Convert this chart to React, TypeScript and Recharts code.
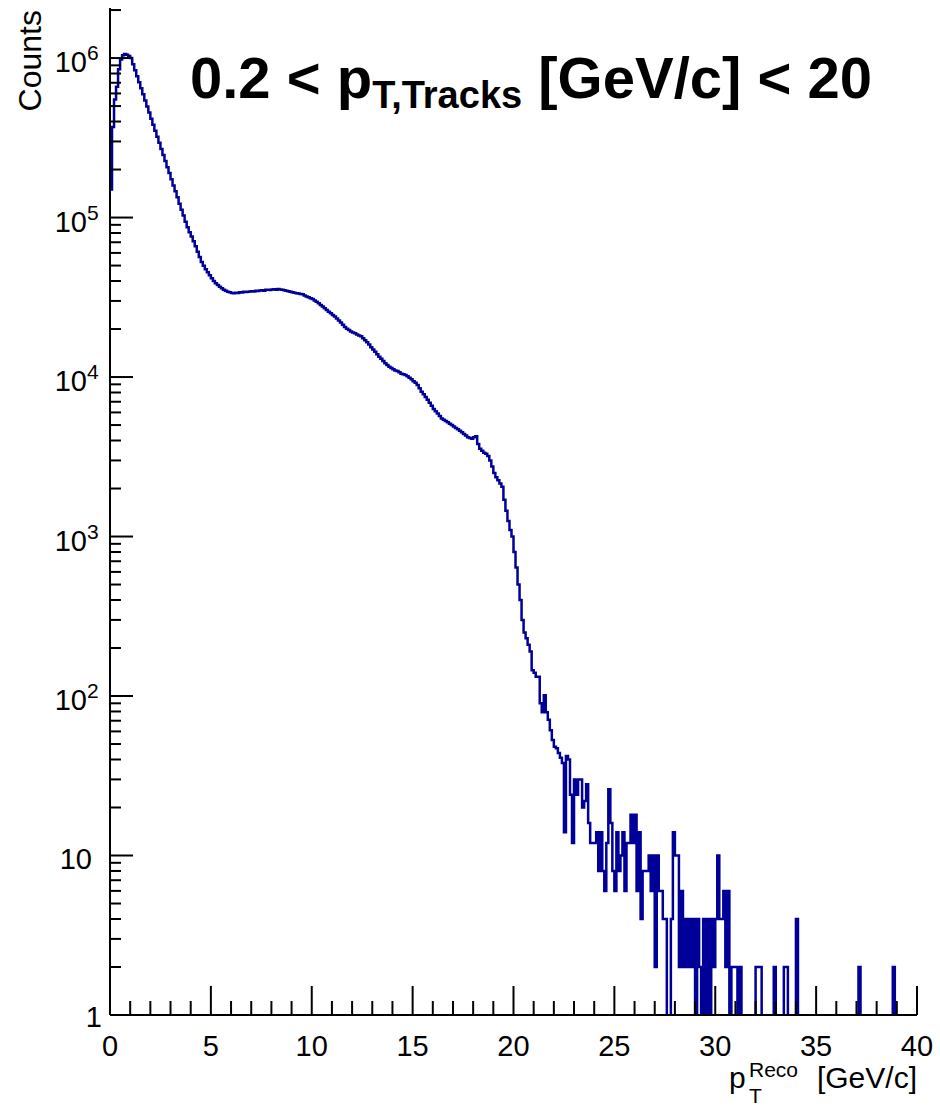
import React from "react";
import { LineChart, Line, XAxis, YAxis } from "recharts";

// reconstructed pT spectrum, 0.1 GeV/c bins, 0 - 40 GeV/c
const BIN_WIDTH = 0.1;
const PT_MAX = 40;

// 0 - 5 GeV/c
const countsPeak = [
  150000, 370000, 550000, 660000, 850000, 980000, 1040000, 1060000, 1050000, 1030000,
  1000000, 916000, 840000, 769000, 705000, 646000, 592000, 542000, 497000, 455000,
  417000, 382000, 350000, 321000, 294000, 269000, 247000, 226000, 207000, 190000,
  174000, 159000, 146000, 134000, 122000, 112000, 103000, 94000, 87000, 81000,
  76000, 71000, 66000, 61000, 56500, 52700, 49800, 47400, 45400, 43500,
];
// 5 - 10 GeV/c
const countsShoulder = [
  41700, 40000, 38800, 37800, 36800, 36000, 35300, 34800, 34300, 34000,
  33600, 33500, 33800, 33700, 34000, 33900, 34200, 34100, 34300, 34400,
  34500, 34400, 34700, 34600, 34900, 35000, 34800, 35200, 35300, 35100,
  35400, 35500, 35300, 35600, 35400, 35200, 35000, 34800, 34500, 34200,
  34000, 33800, 33500, 33400, 33200, 33000, 32500, 32000, 31600, 31200,
];
// 10 - 15 GeV/c
const countsFall = [
  30800, 30200, 29600, 29000, 28300, 27700, 27000, 26300, 25700, 25100,
  24500, 24000, 23300, 22600, 22000, 21300, 20600, 20100, 19700, 19300,
  19000, 18800, 18500, 18200, 18000, 17500, 17000, 16500, 16000, 15400,
  14900, 14400, 13900, 13400, 13000, 12600, 12200, 11900, 11600, 11400,
  11200, 11000, 10900, 10700, 10500, 10400, 10300, 10100, 9900, 9700,
];
// 15 - 20 GeV/c
const countsEdge = [
  9400, 9200, 8900, 8500, 8100, 7800, 7500, 7200, 6900, 6600,
  6300, 6100, 5900, 5700, 5500, 5400, 5300, 5200, 5100, 5000,
  4900, 4800, 4700, 4600, 4500, 4400, 4300, 4200, 4150, 4100,
  4200, 4250, 3800, 3550, 3450, 3350, 3300, 3200, 3000, 2750,
  2500, 2350, 2250, 2150, 2050, 1700, 1450, 1250, 1100, 1000,
];
// 20 - 25 GeV/c
const countsTailA = [
  800, 640, 500, 400, 300, 250, 230, 210, 190, 145,
  140, 132, 132, 90, 79, 101, 79, 71, 61, 53,
  48, 47, 44, 41, 38, 14, 42, 40, 24, 12,
  30, 24, 30, 30, 20, 22, 28, 16, 12, 12,
  12, 14, 8, 14, 8, 6, 12, 26, 16, 8,
];
// 25 - 30 GeV/c
const countsTailB = [
  6, 14, 8, 10, 14, 6, 12, 12, 18, 12,
  18, 6, 14, 4, 8, 8, 8, 10, 6, 10,
  2, 10, 6, 6, 4, 4, 0, 0, 4, 14,
  10, 10, 2, 6, 2, 4, 2, 4, 2, 4,
  0, 4, 2, 0, 4, 0, 4, 0, 4, 2,
];
// 30 - 35 GeV/c
const countsTailC = [
  4, 10, 4, 4, 6, 2, 6, 0, 2, 2,
  2, 0, 2, 0, 0, 0, 0, 0, 0, 0,
  2, 2, 2, 0, 0, 0, 0, 0, 0, 2,
  0, 0, 0, 0, 2, 2, 0, 0, 0, 0,
  4, 0, 0, 0, 0, 0, 0, 0, 0, 0,
];
// 35 - 40 GeV/c
const countsTailD = [
  0, 0, 0, 0, 0, 0, 0, 0, 0, 0,
  0, 0, 0, 0, 0, 0, 0, 0, 0, 0,
  0, 2, 0, 0, 0, 0, 0, 0, 0, 0,
  0, 0, 0, 0, 0, 0, 0, 0, 2, 0,
  0, 0, 0, 0, 0, 0, 0, 0, 0, 0,
];

const xTicks = Array.from({ length: 41 }, (_, i) => i);
const yTicks: number[] = [];
for (let k = 0; k <= 6; k++) {
  for (let m = 1; m <= 9; m++) {
    const v = m * Math.pow(10, k);
    if (v <= 2.06e6) yTicks.push(v);
  }
}

const allCounts = [
  ...countsPeak, ...countsShoulder, ...countsFall, ...countsEdge,
  ...countsTailA, ...countsTailB, ...countsTailC, ...countsTailD,
];
// empty bins fall below the log axis and get clipped at the frame
const floorLog = (c: number) => (c > 0 ? c : 0.4);
const histData = allCounts.map((c, i) => ({ pt: Math.round(i * BIN_WIDTH * 10) / 10, counts: floorLog(c) }));
histData.push({ pt: PT_MAX, counts: floorLog(allCounts[allCounts.length - 1]) });

const FONT = "'Liberation Sans', Arial, Helvetica, sans-serif";
const PLOT_LEFT = 110;
const PLOT_BOTTOM = 1015;

const YTick = (props: any) => {
  const { payload } = props;
  const cy = payload.coordinate ?? props.y;
  const v = payload.value;
  const lg = Math.log10(v);
  const k = Math.round(lg);
  const major = Math.abs(lg - k) < 1e-9;
  const len = major ? 23 : 11;
  let label: React.ReactNode = null;
  if (major) {
    if (k === 0) {
      label = (
        <text x={102} y={cy + 12} textAnchor="end" fontSize={29} fontFamily={FONT} fill="#000">1</text>
      );
    } else if (k === 1) {
      label = (
        <text x={92} y={cy + 13} textAnchor="end" fontSize={29} fontFamily={FONT} fill="#000">10</text>
      );
    } else {
      label = (
        <g>
          <text x={87} y={cy + 14} textAnchor="end" fontSize={29} fontFamily={FONT} fill="#000">10</text>
          <text x={87} y={cy + 2} textAnchor="start" fontSize={21} fontFamily={FONT} fill="#000">{String(k)}</text>
        </g>
      );
    }
  }
  return (
    <g>
      <line x1={PLOT_LEFT} x2={PLOT_LEFT + len} y1={cy} y2={cy} stroke="#000" strokeWidth={2} />
      {label}
    </g>
  );
};

const XTick = (props: any) => {
  const { payload } = props;
  const cx = payload.coordinate ?? props.x;
  const v = payload.value;
  const major = v % 5 === 0;
  const len = major ? 29 : 14;
  return (
    <g>
      <line x1={cx} x2={cx} y1={PLOT_BOTTOM} y2={PLOT_BOTTOM - len} stroke="#000" strokeWidth={2} />
      {major && (
        <text x={cx} y={1056} textAnchor="middle" fontSize={29} fontFamily={FONT} fill="#000">{String(v)}</text>
      )}
    </g>
  );
};

export default function App() {
  return (
    <div style={{ position: "absolute", left: 0, top: 0, width: 940, height: 1109, background: "#fff" }}>
      <LineChart
        width={940}
        height={1109}
        data={histData}
        margin={{ top: 8, right: 23, bottom: 34, left: 10 }}
      >
        <XAxis
          dataKey="pt"
          type="number"
          domain={[0, PT_MAX]}
          ticks={xTicks}
          interval={0}
          allowDataOverflow
          height={60}
          tickLine={false}
          axisLine={{ stroke: "#000", strokeWidth: 2 }}
          tick={(p: any) => <XTick {...p} />}
        />
        <XAxis
          xAxisId="top"
          orientation="top"
          type="number"
          domain={[0, PT_MAX]}
          height={0}
          tick={false}
          tickLine={false}
          axisLine={{ stroke: "#000", strokeWidth: 2 }}
        />
        <YAxis
          type="number"
          scale="log"
          domain={[1, 2.06e6]}
          ticks={yTicks}
          interval={0}
          allowDataOverflow
          width={100}
          tickLine={false}
          axisLine={{ stroke: "#000", strokeWidth: 2 }}
          tick={(p: any) => <YTick {...p} />}
        />
        <YAxis
          yAxisId="right"
          orientation="right"
          type="number"
          domain={[0, 1]}
          width={0}
          tick={false}
          tickLine={false}
          axisLine={{ stroke: "#000", strokeWidth: 2 }}
        />
        <Line
          type="stepAfter"
          dataKey="counts"
          stroke="#000099"
          strokeWidth={2.5}
          dot={false}
          activeDot={false}
          isAnimationActive={false}
        />
      </LineChart>
      <svg
        width={940}
        height={1109}
        style={{ position: "absolute", left: 0, top: 0, pointerEvents: "none" }}
      >
        <text x={190} y={98} fontFamily={FONT} fontWeight="bold" fontSize={58} fill="#000">
          {"0.2 < p"}
          <tspan fontSize={38} dy={10}>T,Tracks</tspan>
          <tspan fontSize={58} dy={-10}>{"\u00a0[GeV/c] < 20"}</tspan>
        </text>
        <text transform="translate(41, 10) rotate(-90)" textAnchor="end" fontFamily={FONT} fontSize={32} fill="#000">
          Counts
        </text>
        <text x={729} y={1088} fontFamily={FONT} fontSize={30} fill="#000">p</text>
        <text x={749} y={1077} fontFamily={FONT} fontSize={21} fill="#000">Reco</text>
        <text x={749} y={1103} fontFamily={FONT} fontSize={21} fill="#000">T</text>
        <text x={917} y={1088} textAnchor="end" fontFamily={FONT} fontSize={30} fill="#000">[GeV/c]</text>
      </svg>
    </div>
  );
}
